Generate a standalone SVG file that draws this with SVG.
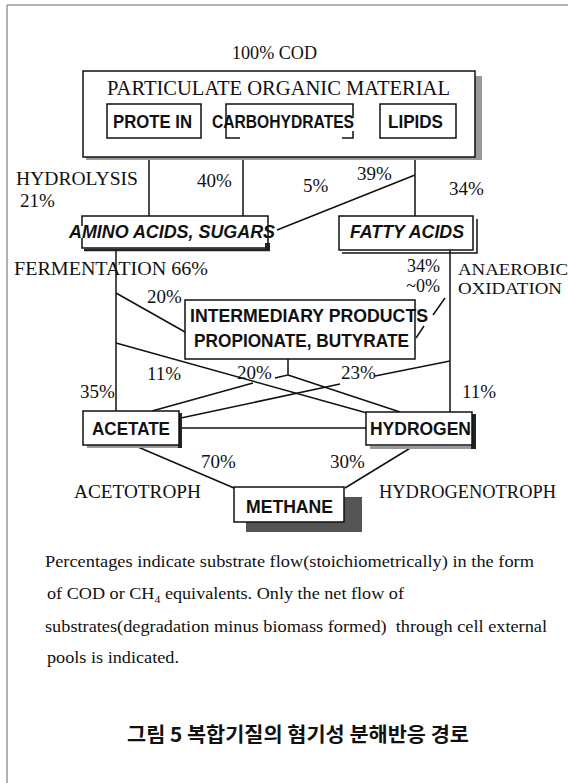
<svg xmlns="http://www.w3.org/2000/svg" width="568" height="783" viewBox="0 0 568 783">
<defs>
<style>
.s{font-family:"Liberation Serif","Times New Roman",serif;font-size:19px;fill:#111}
.p{font-family:"Liberation Serif","Times New Roman",serif;font-size:17px;fill:#111;white-space:pre}
.b{font-family:"Liberation Sans",Arial,sans-serif;font-weight:bold;font-size:17.5px;fill:#111}
.bi{font-family:"Liberation Sans",Arial,sans-serif;font-weight:bold;font-style:italic;font-size:17.5px;fill:#111}
.k{font-family:"Noto Sans CJK KR","Noto Sans CJK SC",sans-serif;font-weight:bold;font-size:20px;fill:#111}
.box{fill:#fff;stroke:#111;stroke-width:1.5}
.ln{fill:none;stroke:#111;stroke-width:1.5}
.sh{fill:#9a9a9a}
.dk{fill:#222}
.frame{fill:none;stroke:#666;stroke-width:1}
</style>
</defs>
<rect x="0" y="0" width="568" height="783" fill="#fff"/>
<path class="frame" d="M7,783 V5 H568"/>

<g id="connectors">
<path class="ln" d="M149,138 V216"/>
<path class="ln" d="M243,138 V216"/>
<path class="ln" d="M415,138 V216"/>
<path class="ln" d="M415,175 L277,230"/>
<path class="ln" d="M116,249 V411"/>
<path class="ln" d="M116,293 L185,332"/>
<path class="ln" d="M116,343 L367,413"/>
<path class="ln" d="M152,411 L253,383"/>
<path class="ln" d="M288,359 V375 L275,378 M288,375 L400,412"/>
<path class="ln" d="M450,250 V412"/>
<path class="ln" d="M450,361 L375,376 M340,384 L181,418"/>
<path class="ln" d="M445,298 L433,315 M424,326 L416,338"/>
<path class="ln" d="M181,428 H366"/>
<path class="ln" d="M138,447 L234,488"/>
<path class="ln" d="M412,447 L345,488"/>
</g>

<text class="s" x="232" y="59" textLength="85" lengthAdjust="spacingAndGlyphs">100% COD</text>

<g id="particulate">
<rect class="sh" x="475" y="76" width="7" height="84"/>
<rect class="sh" x="86" y="157" width="396" height="3"/>
<rect class="box" x="83" y="71" width="392" height="86"/>
<text class="s" x="107" y="95" style="font-size:20px" textLength="343" lengthAdjust="spacingAndGlyphs">PARTICULATE ORGANIC MATERIAL</text>
</g>

<g id="protein">
<rect class="box" x="107" y="104" width="94" height="34"/>
<text class="b" x="113" y="128" textLength="79" lengthAdjust="spacingAndGlyphs">PROTE IN</text>
</g>

<g id="carbohydrates">
<path class="ln" d="M240,138 H226 V104 H353 V118 M353,131 V138 H342"/>
<text class="b" x="212" y="128" textLength="142" lengthAdjust="spacingAndGlyphs">CARBOHYDRATES</text>
</g>

<g id="lipids">
<rect class="box" x="380" y="104" width="76" height="34"/>
<text class="b" x="388" y="128" textLength="55" lengthAdjust="spacingAndGlyphs">LIPIDS</text>
</g>

<text class="s" x="16" y="185" textLength="122" lengthAdjust="spacingAndGlyphs">HYDROLYSIS</text>
<text class="s" x="20" y="207">21%</text>
<text class="s" x="197" y="187">40%</text>
<text class="s" x="303" y="192">5%</text>
<text class="s" x="357" y="180">39%</text>
<text class="s" x="449" y="195">34%</text>

<g id="amino">
<path class="ln" d="M82,226 V216 H268 V248 H82 V238"/>
<path d="M84,250 H270" stroke="#222" stroke-width="2.5"/>
<rect class="dk" x="265" y="243" width="5" height="8"/>
<text class="bi" x="69" y="238" textLength="206" lengthAdjust="spacingAndGlyphs">AMINO ACIDS, SUGARS</text>
</g>

<g id="fatty">
<rect class="box" x="339" y="216" width="134" height="34"/>
<path class="ln" d="M477,219 V253 H342" stroke-width="1.2"/>
<text class="bi" x="350" y="238" textLength="114" lengthAdjust="spacingAndGlyphs">FATTY ACIDS</text>
</g>

<text class="s" x="14" y="275" textLength="194" lengthAdjust="spacingAndGlyphs">FERMENTATION 66%</text>
<text class="s" x="440" y="272" text-anchor="end" style="font-size:18px">34%</text>
<text class="s" x="440" y="292" text-anchor="end" style="font-size:18px">~0%</text>
<text class="s" x="458" y="275" style="font-size:17px" textLength="110" lengthAdjust="spacingAndGlyphs">ANAEROBIC</text>
<text class="s" x="458" y="294" style="font-size:17px" textLength="104" lengthAdjust="spacingAndGlyphs">OXIDATION</text>
<text class="s" x="147" y="303">20%</text>

<g id="intermediary">
<rect class="box" x="185" y="300" width="230" height="59"/>
<text class="b" x="190" y="322" textLength="238" lengthAdjust="spacingAndGlyphs">INTERMEDIARY PRODUCTS</text>
<text class="b" x="194" y="347" textLength="215" lengthAdjust="spacingAndGlyphs">PROPIONATE, BUTYRATE</text>
</g>

<text class="s" x="147" y="380">11%</text>
<text class="s" x="237" y="379">20%</text>
<text class="s" x="341" y="379">23%</text>
<text class="s" x="80" y="398">35%</text>
<text class="s" x="462" y="398">11%</text>

<g id="acetate">
<rect class="sh" x="87" y="445" width="95" height="3"/>
<rect class="dk" x="178" y="413" width="4" height="35"/>
<rect class="box" x="83" y="411" width="96" height="34"/>
<text class="b" x="92" y="435" textLength="78" lengthAdjust="spacingAndGlyphs">ACETATE</text>
</g>

<g id="hydrogen">
<rect class="sh" x="370" y="446" width="106" height="3"/>
<rect class="dk" x="471" y="414" width="5" height="35"/>
<rect class="box" x="366" y="412" width="106" height="33"/>
<text class="b" x="370" y="435" textLength="101" lengthAdjust="spacingAndGlyphs">HYDROGEN</text>
</g>

<text class="s" x="201" y="468">70%</text>
<text class="s" x="330" y="468">30%</text>
<text class="s" x="74" y="498" textLength="127" lengthAdjust="spacingAndGlyphs">ACETOTROPH</text>
<text class="s" x="379" y="498" textLength="177" lengthAdjust="spacingAndGlyphs">HYDROGENOTROPH</text>

<g id="methane">
<rect x="344" y="497" width="18" height="35" fill="#555"/>
<rect x="246" y="522" width="116" height="10" fill="#555"/>
<rect class="box" x="234" y="487" width="110" height="35"/>
<text class="b" x="246" y="513" textLength="87" lengthAdjust="spacingAndGlyphs">METHANE</text>
</g>

<g id="caption">
<text class="p" x="45" y="567" textLength="489" lengthAdjust="spacingAndGlyphs">Percentages indicate substrate flow(stoichiometrically) in the form</text>
<text class="p" x="47" y="599" textLength="357" lengthAdjust="spacingAndGlyphs">of COD or CH<tspan dy="4" font-size="11">4</tspan><tspan dy="-4"> equivalents. Only the net flow of</tspan></text>
<text class="p" x="45" y="632" textLength="502" lengthAdjust="spacingAndGlyphs">substrates(degradation minus biomass formed)  through cell external</text>
<text class="p" x="47" y="663" textLength="132" lengthAdjust="spacingAndGlyphs">pools is indicated.</text>
<text class="k" x="127" y="742" textLength="342" lengthAdjust="spacingAndGlyphs">그림 5 복합기질의 혐기성 분해반응 경로</text>
</g>
</svg>
